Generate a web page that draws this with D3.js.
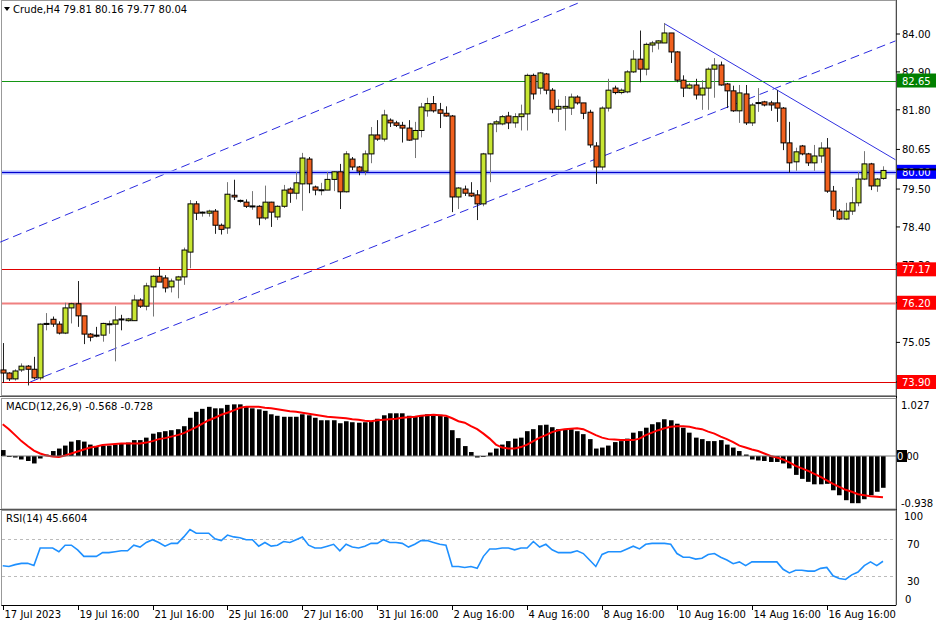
<!DOCTYPE html>
<html><head><meta charset="utf-8">
<script src="https://cdn.jsdelivr.net/npm/d3@7/dist/d3.min.js"></script>
<style>body{margin:0;background:#fff}svg{display:block}text{font-family:"DejaVu Sans",sans-serif;font-size:10px}</style>
</head><body><svg id="c" width="936" height="624"></svg>
<script>
const openP=[74.25,74.16,73.99,74.25,74.36,74.27,74.02,75.57,75.72,75.58,75.32,76.05,76.17,75.82,75.29,75.26,75.26,75.58,75.58,75.73,75.68,75.68,76.28,76.10,76.66,76.97,76.92,76.66,76.86,76.95,77.67,79.07,78.82,78.80,78.86,78.45,78.37,79.32,79.16,79.12,79.00,79.00,78.66,79.12,78.69,79.00,79.50,79.38,79.65,80.37,79.56,79.47,79.47,79.78,80.00,79.42,80.37,80.14,80.02,80.52,81.07,80.95,81.50,81.42,81.35,81.27,80.95,81.20,81.77,81.98,81.80,81.70,81.62,79.27,79.50,79.38,79.33,79.07,80.52,81.39,81.39,81.62,81.42,81.60,81.68,82.80,82.43,82.84,82.37,81.82,81.85,81.85,82.17,82.00,81.73,80.75,80.14,81.85,82.43,82.30,82.32,82.90,83.27,82.98,83.68,83.74,83.74,84.03,83.48,82.66,82.43,82.52,82.23,82.43,82.98,83.10,82.55,82.35,81.77,82.26,81.42,82.00,82.03,82.00,82.00,81.85,80.84,80.29,80.75,80.52,80.26,80.46,80.69,79.44,78.86,78.63,78.86,79.10,79.79,80.23,79.59,79.81];
const highP=[75.03,74.18,74.27,74.44,74.39,74.63,75.60,75.90,75.80,75.66,76.20,76.20,76.83,75.82,75.32,75.50,75.62,75.68,76.10,75.85,75.76,76.43,76.33,76.78,77.00,77.24,77.00,76.90,76.98,77.80,79.18,79.15,78.85,78.90,78.92,78.50,79.70,79.77,79.20,79.20,79.44,79.03,79.60,79.13,79.03,79.62,79.55,80.00,80.55,80.43,79.60,79.68,80.00,80.02,80.23,80.60,80.43,80.17,80.62,81.30,81.50,81.80,81.55,81.48,81.45,81.50,81.45,82.00,82.15,82.20,82.00,81.90,81.65,79.56,79.60,79.70,79.47,80.55,81.42,81.50,81.65,81.74,81.70,81.95,82.85,82.85,82.90,82.87,82.43,82.10,82.20,82.27,82.22,82.00,81.80,80.86,81.90,82.70,82.50,82.42,82.95,83.53,84.10,83.75,83.80,83.82,84.32,84.03,83.50,82.80,82.58,82.70,82.66,83.03,83.30,83.20,82.58,82.50,82.52,82.52,82.00,82.43,82.06,82.06,82.37,81.88,81.45,80.70,80.78,80.55,80.78,80.86,80.98,79.59,78.92,79.10,79.56,80.00,80.60,80.26,79.82,80.16];
const lowP=[73.87,73.93,73.94,74.19,73.80,73.98,73.95,75.40,75.50,75.28,75.29,75.60,75.50,75.00,75.08,75.20,75.07,75.30,74.50,75.40,75.65,75.68,76.05,75.98,75.80,76.80,76.50,76.50,76.33,76.72,77.20,78.60,78.70,78.70,78.20,78.18,78.20,79.18,79.10,78.95,78.90,78.45,78.60,78.40,78.60,78.95,79.10,79.20,78.87,79.38,79.32,79.32,79.47,79.44,78.92,79.40,80.05,79.90,79.90,80.25,80.90,80.88,81.30,81.30,80.85,80.90,80.40,81.00,81.60,81.72,81.27,81.60,78.83,78.92,79.30,79.27,78.60,79.00,79.70,81.15,81.35,81.24,81.28,81.20,81.20,82.10,82.25,82.25,81.70,81.45,81.20,81.65,81.95,81.53,80.70,79.65,80.05,81.75,82.25,82.25,82.28,82.87,82.60,82.80,83.47,83.55,83.74,83.16,82.60,82.17,82.40,82.10,81.80,81.80,82.15,82.50,81.85,81.74,81.42,81.36,81.33,81.74,81.90,81.77,81.45,80.63,79.97,80.03,80.48,80.17,80.03,80.26,79.39,78.69,78.60,78.60,78.75,79.00,79.76,79.47,79.42,79.77];
const closeP=[74.16,73.99,74.22,74.36,74.27,74.02,75.58,75.60,75.58,75.32,76.05,76.17,75.82,75.29,75.20,75.24,75.60,75.59,75.70,75.72,75.73,76.28,76.10,76.69,76.97,76.80,76.63,76.83,76.95,77.73,79.07,78.80,78.83,78.86,78.45,78.33,79.35,79.27,79.17,79.00,79.01,78.66,79.12,78.83,79.00,79.47,79.38,79.68,80.40,79.65,79.47,79.48,79.78,80.00,79.42,80.52,80.14,80.02,80.52,81.07,80.95,81.65,81.42,81.35,81.27,80.92,81.20,81.88,81.98,81.77,81.70,81.62,79.27,79.53,79.38,79.30,79.07,80.52,81.39,81.45,81.60,81.42,81.60,81.68,82.80,82.26,82.87,82.37,81.82,81.90,81.90,82.17,82.00,81.70,80.78,80.14,81.85,82.37,82.30,82.37,82.90,83.27,82.98,83.70,83.74,83.80,84.03,83.48,82.66,82.43,82.52,82.23,82.43,82.98,83.10,82.52,82.35,81.77,82.29,81.42,81.94,82.01,81.94,81.94,81.85,80.84,80.26,80.58,80.52,80.26,80.46,80.69,79.44,78.89,78.63,78.86,79.10,79.79,80.23,79.59,79.79,80.04];
const macdHist=[0.12,-0.02,-0.03,-0.07,-0.10,-0.15,-0.05,0.03,0.10,0.15,0.21,0.29,0.32,0.29,0.23,0.20,0.21,0.21,0.23,0.25,0.27,0.32,0.32,0.37,0.45,0.48,0.50,0.52,0.54,0.60,0.77,0.89,0.95,0.99,0.96,0.96,1.03,1.04,1.04,0.99,0.96,0.94,0.91,0.84,0.81,0.79,0.79,0.79,0.84,0.82,0.77,0.72,0.72,0.72,0.66,0.70,0.68,0.67,0.68,0.70,0.75,0.82,0.86,0.86,0.86,0.81,0.79,0.82,0.84,0.84,0.83,0.79,0.52,0.36,0.20,0.08,-0.03,-0.02,0.07,0.15,0.23,0.30,0.35,0.37,0.50,0.54,0.62,0.63,0.58,0.54,0.54,0.54,0.50,0.44,0.34,0.15,0.17,0.21,0.28,0.30,0.35,0.47,0.50,0.57,0.64,0.68,0.74,0.72,0.65,0.57,0.47,0.37,0.34,0.30,0.30,0.32,0.23,0.17,0.10,0.03,-0.07,-0.09,-0.10,-0.12,-0.12,-0.15,-0.25,-0.38,-0.46,-0.52,-0.57,-0.57,-0.56,-0.69,-0.79,-0.89,-0.95,-0.95,-0.87,-0.79,-0.72,-0.64];
const macdSignal=[0.64,0.54,0.42,0.30,0.20,0.11,0.05,0.01,-0.01,-0.02,0.01,0.05,0.09,0.13,0.17,0.19,0.22,0.23,0.24,0.25,0.25,0.25,0.25,0.27,0.30,0.34,0.36,0.39,0.42,0.46,0.52,0.58,0.65,0.72,0.77,0.83,0.87,0.92,0.97,0.99,0.99,0.99,0.97,0.96,0.94,0.92,0.90,0.89,0.87,0.85,0.83,0.81,0.79,0.78,0.77,0.76,0.74,0.73,0.71,0.70,0.72,0.73,0.74,0.75,0.77,0.78,0.79,0.81,0.82,0.83,0.82,0.81,0.76,0.70,0.67,0.60,0.54,0.45,0.35,0.23,0.17,0.15,0.15,0.18,0.23,0.30,0.37,0.42,0.48,0.52,0.54,0.55,0.56,0.54,0.48,0.42,0.37,0.34,0.33,0.32,0.32,0.32,0.35,0.42,0.47,0.52,0.56,0.59,0.60,0.60,0.59,0.56,0.54,0.49,0.45,0.39,0.34,0.28,0.21,0.17,0.13,0.10,0.05,0.00,-0.03,-0.07,-0.13,-0.20,-0.25,-0.30,-0.36,-0.42,-0.49,-0.56,-0.62,-0.68,-0.72,-0.77,-0.79,-0.81,-0.82,-0.83];
const rsi=[40.8,40,42,43.4,43.4,41,60,60,60,56,63,63,58,51,51,51,55,55,56,57,57,63,61,66,69,66,62,65,65,72,80,76,76,76,70,68,74,72,71,69,69,62,66,62,63,67,66,69,72,63,60,60,62,64,57,64,61,60,62,65,65,69,66,66,65,61,64,68,68,66,64,63,40,40,39,40,38,51,59,59,60,60,58,60,60,67,61,64,58,55,55,55,57,54,47,40,53,56,56,56,59,62,59,64,65,65,65,64,54,50,50,48,49,53,54,50,47,43,45,41,45,45,45,45,45,37,33,36,36,35,35,38,39,30,27,26,31,34,41,45,41,45.66];
const priceTicks=[84.00,82.90,81.80,80.65,79.50,78.40,77.30,76.20,75.05,73.90];
const levels=[{v:82.65,c:"#149614",box:"#008000"},{v:80.00,c:"#0000cc",box:"#0000ff"},{v:77.17,c:"#e00000",box:"#ff0000"},{v:76.20,c:"#f08080",box:"#ff0000"},{v:73.90,c:"#e00000",box:"#ff0000"}];
const macdTicks=[1.027,0.000,-0.938];
const rsiTicks=[100,70,30,0];
const dateTicks=[{i:0,t:"17 Jul 2023"},{i:12,t:"19 Jul 16:00"},{i:24,t:"21 Jul 16:00"},{i:36,t:"25 Jul 16:00"},{i:48,t:"27 Jul 16:00"},{i:60,t:"31 Jul 16:00"},{i:72,t:"2 Aug 16:00"},{i:84,t:"4 Aug 16:00"},{i:96,t:"8 Aug 16:00"},{i:108,t:"10 Aug 16:00"},{i:120,t:"14 Aug 16:00"},{i:132,t:"16 Aug 16:00"}];

const svg=d3.select("#c");
const AX=896;
const x=d3.scaleLinear().domain([0,141]).range([2.7,883]);
const y=d3.scaleLinear().domain([73.9,84]).range([382,34]);
const ym=d3.scaleLinear().domain([-0.938,1.027]).range([502.6,405]);
const yr=d3.scaleLinear().domain([0,100]).range([603.5,511]);
const idx=d3.range(closeP.length);

const g=svg.append("g");
g.append("line").attr("x1",AX+0.5).attr("x2",AX+0.5).attr("y1",0).attr("y2",605).attr("stroke","#000");
[[0,395],[398,508.5],[510,605]].forEach(([a,b])=>{
  g.append("rect").attr("x",1.5).attr("y",a+0.5).attr("width",AX-1.5).attr("height",b-a).attr("fill","none").attr("stroke","#999");
});
g.append("line").attr("x1",0).attr("x2",AX).attr("y1",396.5).attr("y2",396.5).attr("stroke","#555");
g.append("line").attr("x1",0).attr("x2",AX).attr("y1",509.5).attr("y2",509.5).attr("stroke","#555");
g.append("line").attr("x1",1.5).attr("x2",AX).attr("y1",605.5).attr("y2",605.5).attr("stroke","#000");

const chan=[{a:[-0.4,77.96],b:[92.2,84.9]},{a:[4.4,73.9],b:[143,83.8]}];
chan.forEach(l=>g.append("line").attr("x1",x(l.a[0])).attr("y1",y(l.a[1])).attr("x2",x(l.b[0])).attr("y2",y(l.b[1])).attr("stroke","#2a2ae0").attr("stroke-width",1).attr("stroke-dasharray","9,5"));
const tl={a:[106,84.3],b:[143,80.35]};
g.append("line").attr("x1",x(tl.a[0])).attr("y1",y(tl.a[1])).attr("x2",x(tl.b[0])).attr("y2",y(tl.b[1])).attr("stroke","#3030e0");

levels.forEach(l=>{
  const yy=Math.round(y(l.v))+0.5;
  if(l.v===80) g.append("line").attr("x1",2).attr("x2",AX).attr("y1",yy).attr("y2",yy).attr("stroke","#aab4ff").attr("stroke-width",4);
  g.append("line").attr("x1",2).attr("x2",AX).attr("y1",yy).attr("y2",yy).attr("stroke",l.c).attr("stroke-width",l.v===76.2?2:1);
});

const cw=5;
const cg=svg.append("g");
idx.forEach(i=>{
  const up=closeP[i]>=openP[i];
  const xx=Math.round(x(i))+0.5;
  cg.append("line").attr("x1",xx).attr("x2",xx).attr("y1",y(highP[i])).attr("y2",y(lowP[i])).attr("stroke",up?"#777":"#222");
  const t=y(Math.max(openP[i],closeP[i])), b=y(Math.min(openP[i],closeP[i]));
  cg.append("rect").attr("x",xx-cw/2).attr("y",t).attr("width",cw).attr("height",Math.max(1,b-t)).attr("fill",up?"#c8e632":"#f0601e").attr("stroke","#000").attr("stroke-width",1);
});

priceTicks.forEach(p=>{
  g.append("line").attr("x1",AX).attr("x2",AX+4).attr("y1",y(p)).attr("y2",y(p)).attr("stroke","#000");
  g.append("text").attr("x",902).attr("y",y(p)+4).text(p.toFixed(2));
});
levels.forEach(l=>{
  const yy=y(l.v);
  g.append("rect").attr("x",AX+1).attr("y",yy-7).attr("width",39).attr("height",14).attr("fill",l.box);
  g.append("text").attr("x",902).attr("y",yy+4).attr("fill","#fff").text(l.v.toFixed(2));
});
g.append("rect").attr("x",AX+1).attr("y",y(closeP[141])-2).attr("width",39).attr("height",2).attr("fill","#000");

g.append("path").attr("d","M4,7 L10,7 L7,11 Z").attr("fill","#000");
g.append("text").attr("x",13).attr("y",13).text("Crude,H4  79.81 80.16 79.77 80.04");

const mg=svg.append("g");
idx.forEach(i=>{
  const a=ym(0),b=ym(macdHist[i]);
  mg.append("rect").attr("x",Math.round(x(i))-2).attr("y",Math.min(a,b)).attr("width",4.6).attr("height",Math.max(1,Math.abs(a-b))).attr("fill","#000");
});
mg.append("path").datum(macdSignal).attr("d",d3.line().x((d,i)=>x(i)).y(d=>ym(d))).attr("fill","none").attr("stroke","#f00").attr("stroke-width",2);
mg.append("line").attr("x1",2).attr("x2",AX).attr("y1",ym(0)).attr("y2",ym(0)).attr("stroke","#777");
mg.append("text").attr("x",6).attr("y",410).text("MACD(12,26,9) -0.568 -0.728");
macdTicks.forEach(v=>{
  if(v===0){mg.append("rect").attr("x",AX+1).attr("y",ym(0)-6).attr("width",10).attr("height",12).attr("fill","#000");
    mg.append("text").attr("x",AX+1).attr("y",ym(0)+4).attr("fill","#fff").text("0");
    mg.append("text").attr("x",AX+7).attr("y",ym(0)+4).text(".00");}
  else mg.append("text").attr("x",901).attr("y",ym(v)+4).text(v.toFixed(3));
});

const rg=svg.append("g");
[70,30].forEach(v=>rg.append("line").attr("x1",2).attr("x2",AX).attr("y1",Math.round(yr(v))+0.5).attr("y2",Math.round(yr(v))+0.5).attr("stroke","#bbb").attr("stroke-dasharray","3,3"));
rg.append("path").datum(rsi).attr("d",d3.line().x((d,i)=>x(i)).y(d=>yr(d))).attr("fill","none").attr("stroke","#1e90ff").attr("stroke-width",1.6);
rg.append("text").attr("x",6).attr("y",522).text("RSI(14) 45.6604");
rsiTicks.forEach(v=>{rg.append("text").attr("x",v===100?904:v===0?905:907).attr("y",Math.min(yr(v)+9,603)).text(v)});

dateTicks.forEach(d=>{
  const xx=Math.round(x(d.i))+0.5;
  g.append("line").attr("x1",xx).attr("x2",xx).attr("y1",605).attr("y2",610).attr("stroke","#000");
  g.append("text").attr("x",xx+1).attr("y",618).text(d.t);
});
</script></body></html>
